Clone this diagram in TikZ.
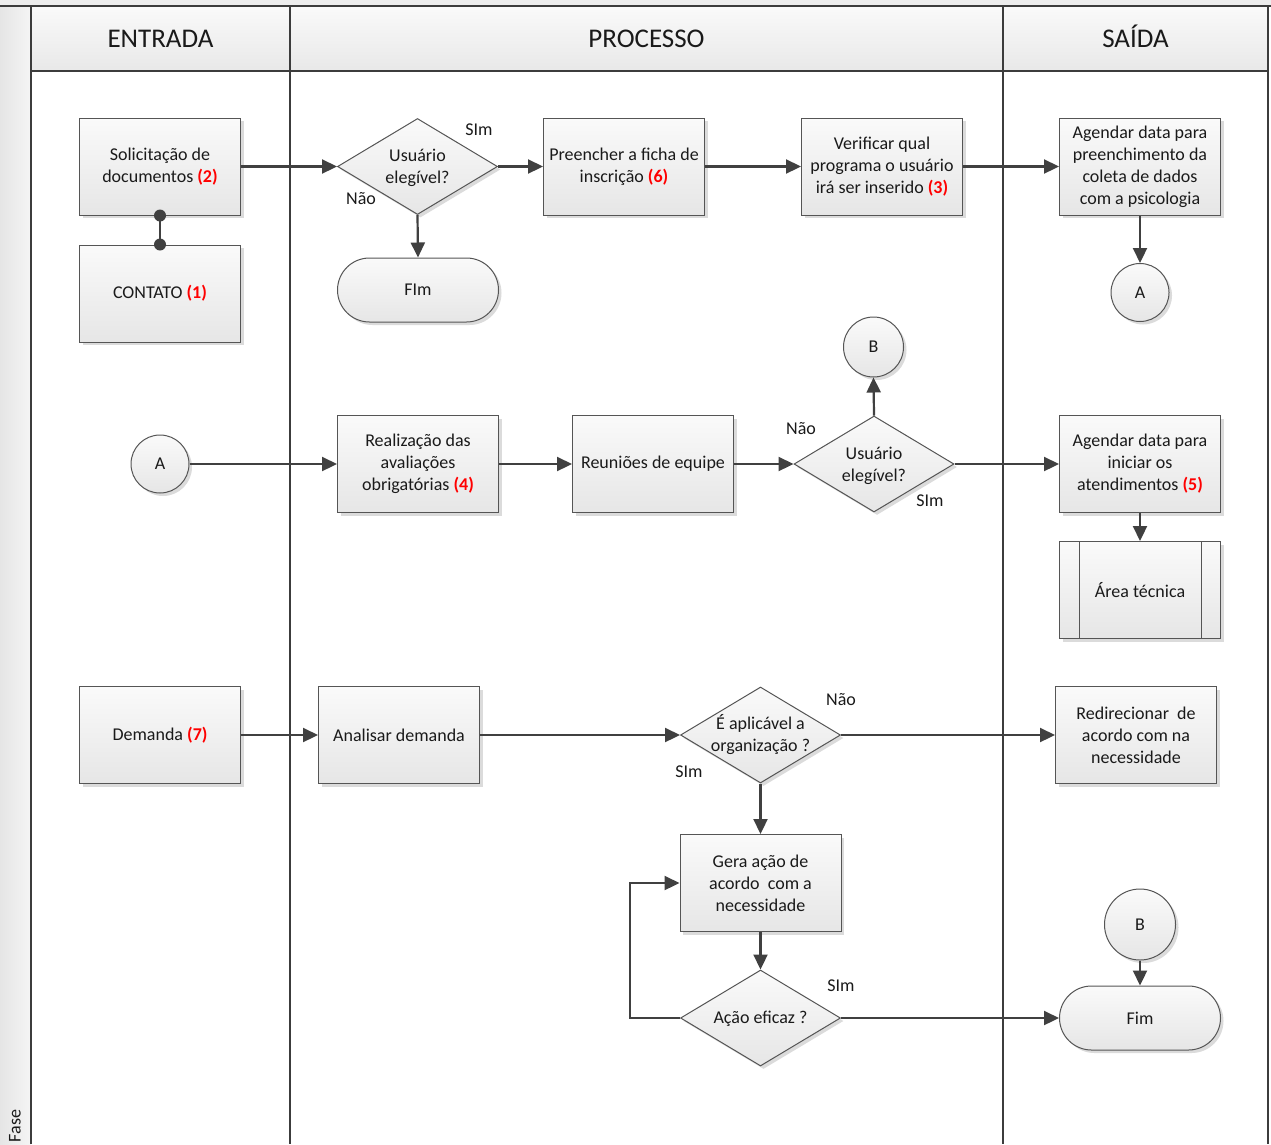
\documentclass[tikz,border=0pt]{standalone}
\usepackage{fontspec}
\setmainfont{Carlito}
\usetikzlibrary{arrows.meta,shapes.geometric,shapes.misc,shadows}
\definecolor{edgecol}{HTML}{404040}
\definecolor{laneline}{HTML}{3C3C3C}
\definecolor{boxline}{HTML}{555555}
\definecolor{boxtop}{HTML}{FAFAFA}
\definecolor{boxbot}{HTML}{E6E6E6}
\definecolor{numred}{HTML}{FF0000}
\definecolor{txt}{HTML}{1A1A1A}
\newcommand{\bodyfont}{\fontsize{18pt}{22pt}\selectfont}
\newcommand{\headfont}{\fontsize{27pt}{32pt}\selectfont}
\newcommand{\rednum}[1]{\textcolor{numred}{\textbf{#1}}}
\begin{document}
\begin{tikzpicture}[x=1pt,y=-1pt,
  shapebase/.style={draw=boxline, line width=1pt, top color=boxtop, bottom color=boxbot,
    general shadow={fill=black!14, shadow xshift=3pt, shadow yshift=-3pt},
    font=\bodyfont, text=txt, align=center, inner sep=0pt},
  box/.style={shapebase, rectangle, minimum width=161pt, minimum height=97pt},
  dia/.style={shapebase, diamond, minimum width=160pt, minimum height=96pt},
  term/.style={shapebase, rounded rectangle, minimum width=161pt, minimum height=64pt},
  circ/.style={shapebase, circle, minimum size=#1},
  conn/.style={draw=edgecol, line width=2.2pt, -{Triangle[length=15pt,width=14pt]}},
  lbl/.style={font=\bodyfont, text=txt, inner sep=0pt},
  lane/.style={draw=laneline, line width=2pt},
  head/.style={font=\headfont, text=txt, inner sep=0pt, anchor=base}]
\useasboundingbox (0,0) rectangle (1271,1144);
% backgrounds
\fill[white] (0,0) rectangle (1271,1144);
\fill[white!93!black] (0,0) rectangle (1271,6);
\shade[left color=white!90!black, right color=white!96!black] (0,6) rectangle (31,1144);
\shade[top color=white!98!black, bottom color=white!91!black] (31,6) rectangle (1268,71);
% lane lines
\draw[lane] (0,6) -- (1271,6);
\draw[lane] (31,6) -- (31,1144);
\draw[lane] (290,6) -- (290,1144);
\draw[lane] (1003,6) -- (1003,1144);
\draw[lane] (1268,6) -- (1268,1144);
\draw[lane] (31,71) -- (1268,71);
\node[head] (hEntrada) at (160.5,47.5) {ENTRADA};
\node[head] (hProcesso) at (646.5,47.5) {PROCESSO};
\node[head] (hSaida) at (1135.5,47.5) {SAÍDA};
\node[lbl, rotate=90] (fase) at (15,1126) {Fase};
% row 1
\node[box] (sol) at (160,166.5) {Solicitação de\\documentos \rednum{(2)}};
\node[box] (con) at (160,293.5) {CONTATO \rednum{(1)}};
\node[dia] (d1) at (417.5,166.5) {};
\node[lbl, align=center] (d1t) at (417.5,168) {Usuário\\elegível?};
\node[term] (fim1) at (418,290) {FIm};
\node[box] (pre) at (624,166.5) {Preencher a ficha de\\inscrição \rednum{(6)}};
\node[box] (ver) at (882,166.5) {Verificar qual\\programa o usuário\\irá ser inserido \rednum{(3)}};
\node[box] (ag1) at (1140,166.5) {Agendar data para\\preenchimento da\\coleta de dados\\com a psicologia};
\node[circ=58pt] (aR) at (1140,292.5) {A};
% row 2
\node[circ=58pt] (aL) at (160,464) {A};
\node[box] (rea) at (418,464) {Realização das\\avaliações\\obrigatórias \rednum{(4)}};
\node[box] (reu) at (653,464) {Reuniões de equipe};
\node[dia] (d2) at (874,464) {};
\node[lbl, align=center] (d2t) at (874,465.5) {Usuário\\elegível?};
\node[circ=60pt] (bM) at (873.5,347) {B};
\node[box] (ag2) at (1140,464) {Agendar data para\\iniciar os\\atendimentos \rednum{(5)}};
\node[box] (area) at (1140,590) {Área técnica};
\draw[boxline, line width=1pt] ([xshift=20pt]area.north west) -- ([xshift=20pt]area.south west);
\draw[boxline, line width=1pt] ([xshift=-20pt]area.north east) -- ([xshift=-20pt]area.south east);
% row 3
\node[box] (dem) at (160,735) {Demanda \rednum{(7)}};
\node[box] (ana) at (399,735) {Analisar demanda};
\node[dia] (d3) at (760.5,735) {};
\node[lbl, align=center] (d3t) at (760.5,735) {É aplicável a\\organização ?};
\node[box] (red) at (1136,735) {Redirecionar~ de\\acordo com na\\necessidade};
\node[box] (ger) at (760.5,883) {Gera ação de\\acordo~ com a\\necessidade};
\node[dia] (d4) at (760.5,1018) {};
\node[lbl] (d4t) at (760.5,1019) {Ação eficaz ?};
\node[circ=71pt] (bR) at (1140,924.5) {B};
\node[term] (fim2) at (1140,1018) {Fim};
% labels
\node[lbl] (l1) at (479,130) {SIm};
\node[lbl] (l2) at (361,199) {Não};
\node[lbl] (l3) at (801,429) {Não};
\node[lbl] (l4) at (930,501) {SIm};
\node[lbl] (l5) at (841,700) {Não};
\node[lbl] (l6) at (689,772) {SIm};
\node[lbl] (l7) at (841,986) {SIm};
% connectors
\draw[draw=edgecol, line width=2.2pt] (sol.south) -- (con.north);
\fill[edgecol] (sol.south) circle (6pt);
\fill[edgecol] (con.north) circle (6pt);
\draw[conn] (sol.east) -- (d1.west);
\draw[conn] (d1.east) -- (pre.west);
\draw[conn] (d1.south) -- (fim1.north);
\draw[conn] (pre.east) -- (ver.west);
\draw[conn] (ver.east) -- (ag1.west);
\draw[conn] (ag1.south) -- (aR.north);
\draw[conn] (aL.east) -- (rea.west);
\draw[conn] (rea.east) -- (reu.west);
\draw[conn] (reu.east) -- (d2.west);
\draw[conn] (d2.north) -- (bM.south);
\draw[conn] (d2.east) -- (ag2.west);
\draw[conn] (ag2.south) -- (area.north);
\draw[conn] (dem.east) -- (ana.west);
\draw[conn] (ana.east) -- (d3.west);
\draw[conn] (d3.east) -- (red.west);
\draw[conn] (d3.south) -- (ger.north);
\draw[conn] (ger.south) -- (d4.north);
\draw[conn] (d4.west) -- ++(-50,0) |- (ger.west);
\draw[conn] (d4.east) -- (fim2.west);
\draw[conn] (bR.south) -- (fim2.north);
\end{tikzpicture}
\end{document}
